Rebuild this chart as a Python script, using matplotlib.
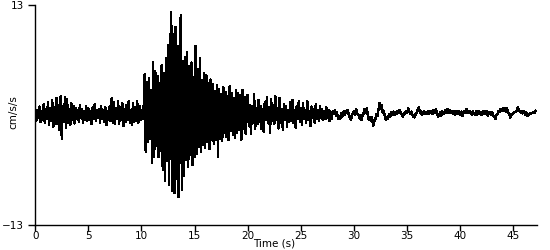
import numpy as np
import matplotlib.pyplot as plt

# acceleration, 10 samples per second (cm/s/s)
dt = 0.1
accel = [
    0.4, -0.7, 0.6, -0.3, 1.0, -0.8, 0.5, -0.6, 1.3, -0.9,
    0.7, -0.5, 1.5, -1.2, 0.8, -0.7, 1.8, -1.4, 0.9, -1.1,
    2.0, -1.0, 1.2, -1.8, 2.2, -2.8, 1.0, -0.8, 2.1, -1.5,
    1.9, -0.9, 0.7, -1.2, 1.4, -0.6, 1.1, -1.0, 0.8, -0.5,
    0.6, -0.8, 1.2, -0.4, 0.7, -0.9, 0.5, -0.6, 1.0, -0.7,
    0.8, -0.6, 0.5, -1.1, 0.9, -0.5, 1.3, -0.7, 0.6, -0.4,
    0.7, -0.9, 1.1, -0.5, 0.6, -0.8, 0.9, -1.2, 0.5, -0.6,
    1.0, -0.7, 2.0, -0.9, 1.5, -1.0, 0.8, -0.5, 1.7, -1.1,
    0.9, -0.6, 1.4, -1.3, 0.7, -0.8, 1.2, -0.6, 1.6, -0.9,
    0.6, -1.2, 1.4, -0.8, 0.9, -0.7, 1.6, -0.9, 1.1, -0.6,
    0.6, -0.5, 0.8, 4.8, -4.4, 3.9, -3.2, 4.4, -2.8, 3.0,
    -5.7, 6.3, -4.9, 5.2, -3.6, 4.6, -5.0, 3.8, -4.2, 5.9,
    -6.5, 4.9, -7.8, 6.7, -5.4, 8.3, -8.3, 7.1, 12.2, -9.0,
    9.6, -9.2, 10.4, -7.5, 8.1, -9.7, 8.6, 11.8, -8.8, 6.4,
    -7.2, 6.9, -5.3, 7.4, -6.1, 5.8, -4.7, 6.2, -5.9, 4.5,
    -5.0, 8.2, -4.6, 5.4, -3.8, 6.7, -4.4, 4.1, -3.5, 4.9,
    -3.9, 4.7, -3.2, 3.8, -4.0, 4.2, -2.9, 3.6, -3.4, 2.8,
    -3.0, 3.5, -4.9, 3.1, -2.8, 2.5, -3.1, 3.3, -2.1, 2.7,
    -2.6, 2.2, -3.0, 3.4, -1.9, 2.6, -2.3, 2.0, -2.7, 2.9,
    -2.1, 2.6, -1.8, 2.3, -2.9, 3.0, -1.6, 2.1, -2.2, 1.9,
    2.4, -1.3, 1.2, -2.2, 1.0, -0.9, 2.5, -1.6, 0.8, -1.1,
    1.8, -0.8, 1.1, -1.7, 0.7, -2.0, 1.5, -0.6, 2.1, -0.9,
    0.9, -2.1, 1.9, -0.7, 1.2, -1.0, 2.2, -0.6, 0.8, -1.6,
    2.0, -0.9, 0.7, -1.8, 1.3, -0.6, 1.0, -1.4, 0.6, -0.8,
    1.5, -0.7, 1.8, -0.9, 0.6, -1.5, 1.0, -0.5, 1.6, -0.8,
    0.8, -1.2, 1.4, -0.5, 0.6, -0.9, 1.7, -0.6, 0.5, -1.3,
    1.0, -0.4, 0.7, -0.9, 1.3, -0.5, 0.6, -0.7, 1.1, -0.4,
    0.7, -0.6, 0.4, -0.5, 0.9, -0.3, 0.6, -0.7, 0.4, -0.5,
    0.5, 0.1, 0.6, -0.1, 0.3, -0.4, -0.1, -0.5, 0.2, -0.2,
    0.4, 0.0, 0.5, 0.2, 0.6, 0.1, -0.3, -0.6, -0.1, 0.2,
    0.5, 0.0, 0.7, 0.2, 0.1, -0.4, 0.0, -0.6, -0.1, 0.2,
    0.7, 0.3, 0.8, 0.0, -0.6, -0.2, -0.7, -0.3, -1.3, -0.8,
    -0.5, 0.1, -0.1, 0.6, 1.4, 0.7, 1.2, 0.3, 0.5, -0.2,
    -0.6, -0.2, -0.5, 0.1, -0.2, 0.3, 0.0, 0.4, 0.0, 0.3,
    0.1, 0.5, 0.2, 0.6, 0.3, 0.0, -0.2, 0.2, 0.1, 0.5,
    0.3, 0.8, 0.4, 0.1, 0.4, 0.0, -0.2, -0.3, 0.1, 0.3,
    0.6, 0.9, 0.3, 0.4, 0.0, 0.3, 0.5, 0.2, 0.1, 0.4,
    0.1, 0.5, 0.2, 0.5, 0.1, 0.6, 0.2, 0.7, 0.2, -0.2,
    0.0, 0.3, -0.1, 0.4, 0.1, 0.3, 0.6, 0.2, 0.7, 0.3,
    0.6, 0.2, 0.5, 0.1, 0.5, 0.0, 0.4, 0.5, 0.1, 0.4,
    0.0, 0.4, -0.1, 0.3, 0.5, 0.2, 0.7, 0.3, 0.2, 0.5,
    0.2, 0.0, 0.4, 0.1, 0.0, 0.4, 0.0, 0.5, 0.1, 0.3,
    0.0, 0.4, 0.1, 0.5, 0.1, 0.4, -0.1, 0.3, 0.3, 0.0,
    0.3, -0.1, -0.1, -0.5, 0.0, 0.1, 0.5, 0.4, 0.7, 0.5,
    0.8, 0.5, 0.8, 0.4, 0.8, 0.3, 0.2, -0.3, 0.0, 0.1,
    0.2, 0.3, 0.4, 0.5, 0.9, 0.6, 0.5, 0.3, 0.4, 0.2,
    0.4, 0.0, 0.3, -0.1, 0.0, 0.1, 0.2, 0.2, 0.3, 0.3,
    0.2, 0.5,
]
xticks = [0, 5, 10, 15, 20, 25, 30, 35, 40, 45]
yticks = [-13, 13]

tid = np.arange(len(accel)) * dt

fig = plt.figure(figsize=(5.5, 2.5), dpi=100)
ax = fig.add_axes([0.064, 0.10, 0.912, 0.88])

ax.plot(tid, accel, color='black', linewidth=1.0, antialiased=False)

ax.set_xlim(0, 47.2)
ax.set_ylim(-13, 13)
ax.set_xticks(xticks)
ax.set_yticks(yticks)
ax.tick_params(axis='x', labelsize=7.5, length=4, width=1, pad=0)
ax.tick_params(axis='y', labelsize=7.5, length=5, width=1, pad=3)
ax.spines['top'].set_visible(False)
ax.spines['right'].set_visible(False)
ax.spines['left'].set_linewidth(1)
ax.spines['bottom'].set_linewidth(1)
fig.text(13 / 550, 1 - 112 / 250, 'cm/s/s', fontsize=7.5, rotation=90,
         ha='center', va='center')
fig.text(274 / 550, 1 - 249 / 250, 'Time (s)', fontsize=7.5, ha='center', va='bottom')

fig.savefig('out.png', dpi=100)
